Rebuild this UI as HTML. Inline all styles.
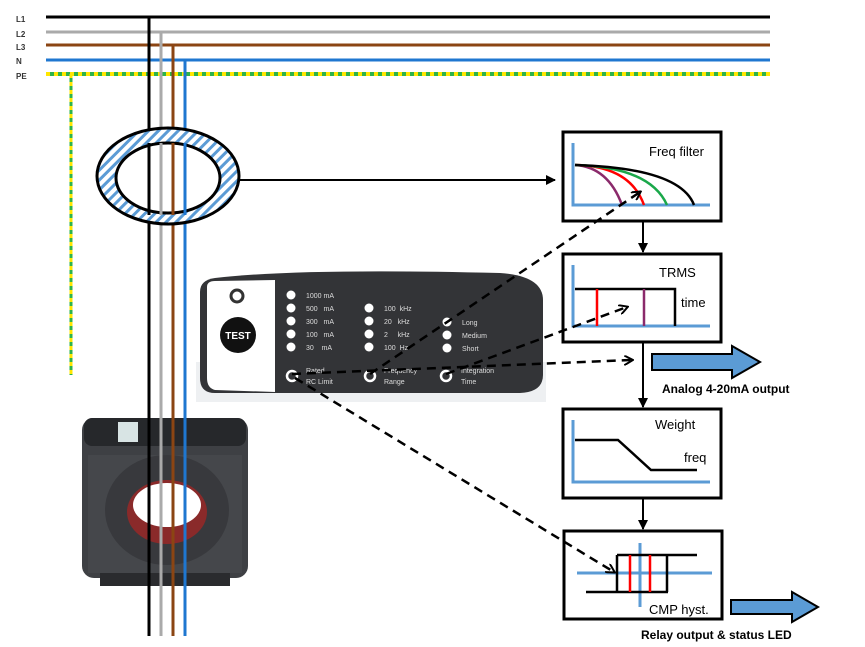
<!DOCTYPE html>
<html><head><meta charset="utf-8"><style>
html,body{margin:0;padding:0;background:#fff;}
svg{display:block;}
text{font-family:"Liberation Sans",sans-serif;}
</style></head><body>
<svg width="865" height="647" viewBox="0 0 865 647" xmlns="http://www.w3.org/2000/svg">
<defs>
<pattern id="hatch" patternUnits="userSpaceOnUse" width="7" height="7" patternTransform="rotate(45)">
<rect width="7" height="7" fill="#fff"/><rect width="3" height="7" fill="#5b9bd5"/>
</pattern>
<marker id="ah" markerWidth="10" markerHeight="10" refX="8" refY="5" orient="auto" markerUnits="userSpaceOnUse">
<path d="M0,0 L9,5 L0,10" fill="none" stroke="#000" stroke-width="2"/></marker>
<marker id="af" markerWidth="10" markerHeight="10" refX="9" refY="5" orient="auto" markerUnits="userSpaceOnUse">
<path d="M0,0 L10,5 L0,10z" fill="#000"/></marker>
</defs>
<g font-size="8" fill="#333" font-weight="bold">
<text x="16" y="22">L1</text><text x="16" y="37">L2</text><text x="16" y="50">L3</text><text x="16" y="64">N</text><text x="16" y="79">PE</text>
</g>
<line x1="46" y1="17" x2="770" y2="17" stroke="#000" stroke-width="3"/>
<line x1="46" y1="32" x2="770" y2="32" stroke="#aaa" stroke-width="3"/>
<line x1="46" y1="45" x2="770" y2="45" stroke="#8b4513" stroke-width="3"/>
<line x1="46" y1="60" x2="770" y2="60" stroke="#1f77d0" stroke-width="3"/>
<line x1="46" y1="74" x2="770" y2="74" stroke="#2db34a" stroke-width="4"/>
<line x1="46" y1="74" x2="770" y2="74" stroke="#ffe600" stroke-width="4" stroke-dasharray="4 4"/>
<line x1="71" y1="74" x2="71" y2="375" stroke="#2db34a" stroke-width="3"/>
<line x1="71" y1="74" x2="71" y2="375" stroke="#ffe600" stroke-width="3" stroke-dasharray="4 4"/>
<!-- device bottom -->
<rect x="82" y="418" width="166" height="160" rx="12" fill="#3e4044"/>
<rect x="84" y="418" width="162" height="28" rx="8" fill="#26282b"/>
<rect x="118" y="422" width="20" height="20" fill="#d8e4e4"/>
<rect x="100" y="572" width="130" height="14" fill="#2a2b2e"/>
<rect x="88" y="455" width="154" height="118" fill="#45474b"/>
<ellipse cx="167" cy="510" rx="62" ry="55" fill="#38393d"/>
<ellipse cx="167" cy="512" rx="40" ry="32" fill="#8a2a2a"/>
<ellipse cx="167" cy="505" rx="34" ry="22" fill="#fff"/>
<line x1="149" y1="17" x2="149" y2="636" stroke="#000" stroke-width="3"/>
<line x1="161" y1="32" x2="161" y2="636" stroke="#aaa" stroke-width="3"/>
<line x1="173" y1="45" x2="173" y2="636" stroke="#8b4513" stroke-width="3"/>
<line x1="185" y1="60" x2="185" y2="636" stroke="#1f77d0" stroke-width="3"/>
<ellipse cx="168" cy="176" rx="71" ry="48" fill="url(#hatch)" stroke="#000" stroke-width="3"/>
<ellipse cx="168" cy="178" rx="52" ry="35" fill="#fff" stroke="#000" stroke-width="3"/>
<line x1="149" y1="143" x2="149" y2="215" stroke="#000" stroke-width="3"/>
<line x1="161" y1="143" x2="161" y2="215" stroke="#aaa" stroke-width="3"/>
<line x1="173" y1="143" x2="173" y2="215" stroke="#8b4513" stroke-width="3"/>
<line x1="185" y1="143" x2="185" y2="215" stroke="#1f77d0" stroke-width="3"/>
<line x1="240" y1="180" x2="555" y2="180" stroke="#000" stroke-width="2" marker-end="url(#af)"/>
<!-- panel -->
<rect x="196" y="362" width="350" height="40" fill="#eef0f2"/>
<path d="M215,278 Q300,268 500,273 Q543,276 543,300 L543,375 Q543,392 520,393 L215,393 Q200,393 200,378 L200,292 Q200,280 215,278z" fill="#333437"/>
<path d="M207,287 Q207,281 215,281 L275,280 L275,392 L215,390 Q207,388 207,378z" fill="#fff"/>
<circle cx="237" cy="296" r="6" fill="none" stroke="#333" stroke-width="3"/>
<circle cx="238" cy="335" r="18" fill="#111"/>
<text x="238" y="339" font-size="10" fill="#fff" text-anchor="middle" font-weight="bold">TEST</text>
<g fill="#fff">
<circle cx="291" cy="295" r="4.5"/><circle cx="291" cy="308" r="4.5"/><circle cx="291" cy="321" r="4.5"/><circle cx="291" cy="334" r="4.5"/><circle cx="291" cy="347" r="4.5"/>
<circle cx="369" cy="308" r="4.5"/><circle cx="369" cy="321" r="4.5"/><circle cx="369" cy="334" r="4.5"/><circle cx="369" cy="347" r="4.5"/>
<circle cx="447" cy="322" r="4.5"/><circle cx="447" cy="335" r="4.5"/><circle cx="447" cy="348" r="4.5"/>
</g>
<g font-size="7" fill="#ddd">
<text x="306" y="298">1000 mA</text><text x="306" y="311">500 &#160; mA</text><text x="306" y="324">300 &#160; mA</text><text x="306" y="337">100 &#160; mA</text><text x="306" y="350">30 &#160;&#160; mA</text>
<text x="384" y="311">100 &#160;kHz</text><text x="384" y="324">20 &#160; kHz</text><text x="384" y="337">2 &#160;&#160;&#160; kHz</text><text x="384" y="350">100 &#160;Hz</text>
<text x="462" y="325">Long</text><text x="462" y="338">Medium</text><text x="462" y="351">Short</text>
<text x="306" y="373">Rated</text><text x="306" y="384">RC Limit</text>
<text x="384" y="373">Frequency</text><text x="384" y="384">Range</text>
<text x="461" y="373">Integration</text><text x="461" y="384">Time</text>
</g>
<g fill="none" stroke="#fff" stroke-width="2.5">
<circle cx="292" cy="376" r="5"/><circle cx="370" cy="376" r="5"/><circle cx="446" cy="376" r="5"/>
</g>
<!-- boxes -->
<g fill="#fff" stroke="#000" stroke-width="3">
<rect x="563" y="132" width="158" height="89"/>
<rect x="563" y="254" width="158" height="88"/>
<rect x="563" y="409" width="158" height="89"/>
<rect x="564" y="531" width="158" height="88"/>
</g>
<g stroke="#000" stroke-width="2">
<line x1="643" y1="221" x2="643" y2="252" marker-end="url(#af)"/>
<line x1="643" y1="342" x2="643" y2="407" marker-end="url(#af)"/>
<line x1="643" y1="498" x2="643" y2="529" marker-end="url(#af)"/>
</g>
<g font-size="13" fill="#000">
<text x="649" y="156">Freq filter</text>
<text x="659" y="277">TRMS</text>
<text x="681" y="307">time</text>
<text x="655" y="429">Weight</text>
<text x="684" y="462">freq</text>
<text x="649" y="614">CMP hyst.</text>
</g>
<g stroke="#5b9bd5" stroke-width="3" fill="none">
<path d="M573,143 V205 H710"/>
<path d="M573,265 V326 H710"/>
<path d="M573,420 V482 H710"/>
<path d="M577,573 H712 M640,543 V607"/>
</g>
<g fill="none" stroke-width="2.5">
<path d="M575,165 Q608,167 622,205" stroke="#8b2a6b"/>
<path d="M575,165 Q630,166 644,205" stroke="#f00"/>
<path d="M575,165 Q650,167 667,205" stroke="#1aa84a"/>
<path d="M575,165 Q680,168 694,205" stroke="#000"/>
<path d="M575,289 H675 V326" stroke="#000"/>
<line x1="597" y1="289" x2="597" y2="326" stroke="#f00"/>
<line x1="644" y1="289" x2="644" y2="326" stroke="#8b2a6b"/>
<path d="M575,440 H618 L651,470 H697" stroke="#000"/>
<path d="M617,555 H697 M586,592 H668 M617,555 V592 M667,555 V592" stroke="#000"/>
<line x1="630" y1="555" x2="630" y2="592" stroke="#f00"/>
<line x1="650" y1="555" x2="650" y2="592" stroke="#f00"/>
</g>
<!-- dashed (on top) -->
<g stroke="#000" stroke-width="2.5" stroke-dasharray="9 6" fill="none">
<line x1="292" y1="374" x2="632" y2="360" marker-end="url(#ah)"/>
<line x1="370" y1="374" x2="640" y2="192" marker-end="url(#ah)"/>
<line x1="446" y1="374" x2="627" y2="307" marker-end="url(#ah)"/>
<line x1="295" y1="378" x2="614" y2="572" marker-end="url(#ah)"/>
</g>
<path d="M652,354 H732 V346 L760,362 L732,378 V370 H652z" fill="#5b9bd5" stroke="#000" stroke-width="2"/>
<path d="M731,600 H792 V592 L818,607 L792,622 V614 H731z" fill="#5b9bd5" stroke="#000" stroke-width="2"/>
<text x="662" y="393" font-size="12" font-weight="bold">Analog 4-20mA output</text>
<text x="641" y="639" font-size="12" font-weight="bold">Relay output &amp; status LED</text>
</svg>
</body></html>
